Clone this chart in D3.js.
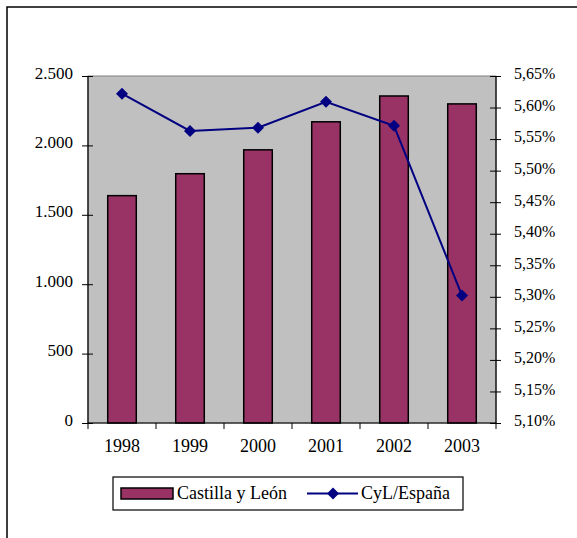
<!DOCTYPE html>
<html><head><meta charset="utf-8">
<script src="https://cdn.jsdelivr.net/npm/d3@7"></script>
<style>body{margin:0;background:#fff}svg{display:block}svg text{font-family:'Liberation Serif','Times New Roman',serif !important;fill:#000}</style>
</head><body>
<svg id="c" width="577" height="538"></svg>
<script>
const years = ["1998","1999","2000","2001","2002","2003"];
const cylValues = [1638, 1796, 1968, 2170, 2356, 2299];
const ratioValues = [5.622, 5.563, 5.568, 5.609, 5.571, 5.302];
const leftTicks = [0, 500, 1000, 1500, 2000, 2500];
const rightTicks = [5.10,5.15,5.20,5.25,5.30,5.35,5.40,5.45,5.50,5.55,5.60,5.65];
const seriesNames = ["Castilla y León", "CyL/España"];

const FONT = "'Liberation Serif','Times New Roman',serif";
const svg = d3.select("#c");
const L = 88, R = 496, T = 76, B = 423;

svg.append("rect").attr("x",7).attr("y",7).attr("width",700).attr("height",700)
  .attr("fill","#fff").attr("stroke","#000").attr("stroke-width",1.5);

const x = d3.scaleBand().domain(years).range([L,R]).paddingInner(0).paddingOuter(0);
const yL = d3.scaleLinear().domain([0,2500]).range([B,T]);
const yR = d3.scaleLinear().domain([5.10,5.65]).range([B,T]);

svg.append("rect").attr("x",L).attr("y",T).attr("width",R-L).attr("height",B-T)
  .attr("fill","#c0c0c0").attr("stroke","#808080").attr("stroke-width",1);

const bw = x.bandwidth()*0.42;
svg.append("g").selectAll("rect").data(years).join("rect")
  .attr("x",(d)=>x(d)+x.bandwidth()/2-bw/2)
  .attr("y",(d,i)=>yL(cylValues[i]))
  .attr("width",bw)
  .attr("height",(d,i)=>B-yL(cylValues[i]))
  .attr("fill","#993366").attr("stroke","#000").attr("stroke-width",1.5);

const fmtL = d=> d3.format(",")(d).replace(/,/g,".");
const ga = svg.append("g").attr("transform",`translate(${L},0)`)
  .call(d3.axisLeft(yL).tickValues(leftTicks).tickFormat(fmtL).tickSize(6).tickPadding(9));
ga.selectAll(".tick line").attr("x2",-6).attr("x1",5);
const fmtR = d=> d.toFixed(2).replace(".",",")+"%";
const gr = svg.append("g").attr("transform",`translate(${R},0)`)
  .call(d3.axisRight(yR).tickValues(rightTicks).tickFormat(fmtR).tickSize(5).tickPadding(13));
gr.selectAll(".tick line").attr("x1",-6);
const gb = svg.append("g").attr("transform",`translate(0,${B})`)
  .call(d3.axisBottom(x).tickSize(0).tickPadding(16));
gb.selectAll(".tick line").remove();
const bounds = years.map(d=>x(d)).concat([R]);
gb.selectAll(".bt").data(bounds).join("line").attr("class","bt")
  .attr("x1",d=>d).attr("x2",d=>d).attr("y1",0).attr("y2",6).attr("stroke","#000").attr("stroke-width",1);

[[ga,17],[gr,16],[gb,18]].forEach(([g,fs])=>{
  g.attr("font-family",FONT).style("font-family",FONT).attr("font-size",fs);
  g.selectAll(".domain").attr("stroke","#000").attr("stroke-width",1.2);
  g.selectAll(".tick line").attr("stroke","#000");
  g.selectAll("text").attr("font-size",fs).style("font-family",FONT).attr("fill","#000");
});
ga.selectAll("text").attr("dy","0.12em");
gr.selectAll("text").attr("dy","0.18em");
ga.select(".domain").attr("d",`M0,${T}V${B}`);
gr.select(".domain").attr("d",`M0,${T}V${B}`);
gb.select(".domain").attr("d",`M${L},0H${R}`);

const line = d3.line().x((d,i)=>x(years[i])+x.bandwidth()/2).y(d=>yR(d));
svg.append("path").datum(ratioValues).attr("d",line).attr("fill","none")
  .attr("stroke","#000080").attr("stroke-width",2);
svg.append("g").selectAll("path").data(ratioValues).join("path")
  .attr("transform",(d,i)=>`translate(${x(years[i])+x.bandwidth()/2},${yR(d)}) rotate(45)`)
  .attr("d",d3.symbol().type(d3.symbolSquare).size(72)).attr("fill","#000080");

const lg = svg.append("g").style("font-family",FONT);
lg.append("rect").attr("x",113).attr("y",477).attr("width",350).attr("height",33)
  .attr("fill","#fff").attr("stroke","#000").attr("stroke-width",1.2);
lg.append("rect").attr("x",121).attr("y",488).attr("width",52).attr("height",11)
  .attr("fill","#993366").attr("stroke","#000").attr("stroke-width",1.5);
lg.append("text").attr("x",177).attr("y",499).attr("font-size",18).text(seriesNames[0]);
lg.append("line").attr("x1",307).attr("x2",358).attr("y1",493.5).attr("y2",493.5)
  .attr("stroke","#000080").attr("stroke-width",2);
lg.append("path").attr("transform","translate(333,493.5) rotate(45)")
  .attr("d",d3.symbol().type(d3.symbolSquare).size(72)).attr("fill","#000080");
lg.append("text").attr("x",361).attr("y",499).attr("font-size",18).text(seriesNames[1]);
</script>
</body></html>
